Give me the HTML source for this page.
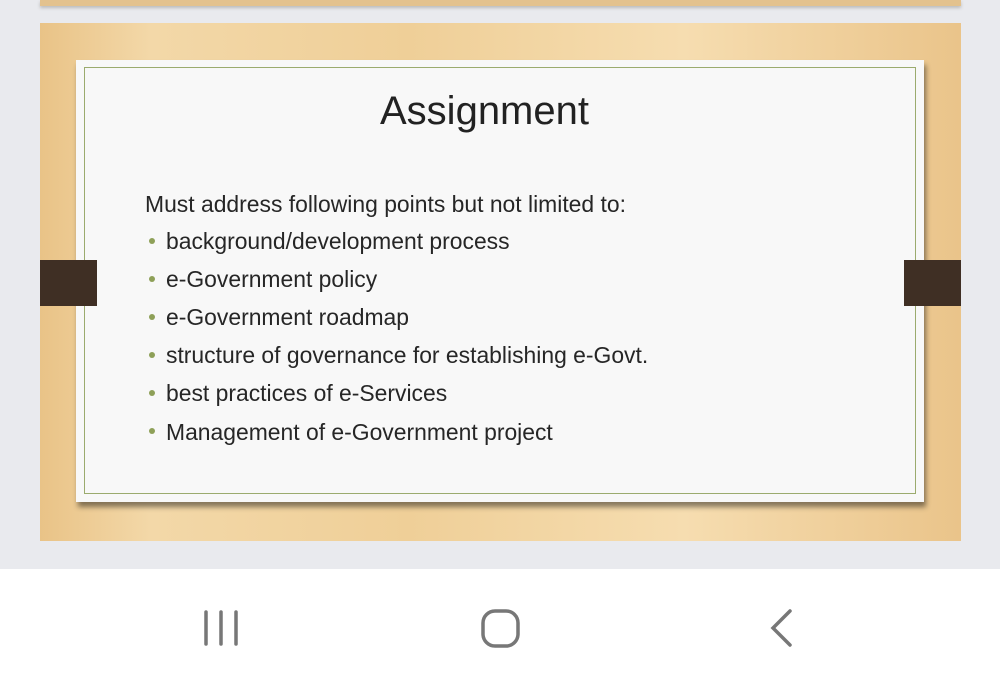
<!DOCTYPE html>
<html><head><style>
body{margin:0;width:1000px;height:686px;background:#fff;position:relative;overflow:hidden;font-family:"Liberation Sans",Arial,sans-serif}
.gray{position:absolute;left:0;top:0;width:1000px;height:569px;background:#e9eaee}
.top{position:absolute;left:40px;top:0;width:921px;height:6px;background:#e3c28e;box-shadow:0 2px 3px #bbb}
.wood{position:absolute;left:40px;top:23px;width:921px;height:518px;background:linear-gradient(90deg,#e9c387 0%,#f3d8a8 12%,#efcf98 40%,#f6ddb0 70%,#eac48a 100%)}
.card{position:absolute;left:76px;top:60px;width:848px;height:442px;background:#f8f8f8;box-shadow:2px 5px 5px rgba(0,0,0,.45)}
.inner{position:absolute;left:84px;top:67px;width:830px;height:425px;border:1.5px solid #9bab6e}
.tab{position:absolute;top:260px;width:57px;height:46px;background:#3f2f24}
.t{position:absolute;color:#262626;font-size:22.9px;white-space:nowrap}
.b{position:absolute;left:149px;width:6px;height:6px;border-radius:50%;background:#8ea058}
</style></head><body>
<div class="gray"></div>
<div class="top"></div>
<div class="wood"></div>
<div class="card"></div>
<div class="inner"></div>
<div class="tab" style="left:40px"></div>
<div class="tab" style="left:904px"></div>
<div class="t" style="left:380px;top:89px;font-size:40px;color:#222">Assignment</div>
<div class="t" style="left:145px;top:191px">Must address following points but not limited to:</div>
<div class="b" style="top:238px"></div><div class="t" style="left:166px;top:228px">background/development process</div>
<div class="b" style="top:276px"></div><div class="t" style="left:166px;top:266px">e-Government policy</div>
<div class="b" style="top:314px"></div><div class="t" style="left:166px;top:304px">e-Government roadmap</div>
<div class="b" style="top:352px"></div><div class="t" style="left:166px;top:342px">structure of governance for establishing e-Govt.</div>
<div class="b" style="top:390px"></div><div class="t" style="left:166px;top:380px">best practices of e-Services</div>
<div class="b" style="top:428px"></div><div class="t" style="left:166px;top:419px">Management of e-Government project</div>
<svg style="position:absolute;left:0;top:569px" width="1000" height="117">
<g stroke="#777" stroke-width="3.5" fill="none" stroke-linecap="round">
<line x1="206" y1="43" x2="206" y2="75"/><line x1="221" y1="43" x2="221" y2="75"/><line x1="236" y1="43" x2="236" y2="75"/>
<rect x="483" y="42" width="35" height="35" rx="12"/>
<polyline points="790,42 773,59 790,76"/>
</g></svg>
</body></html>
